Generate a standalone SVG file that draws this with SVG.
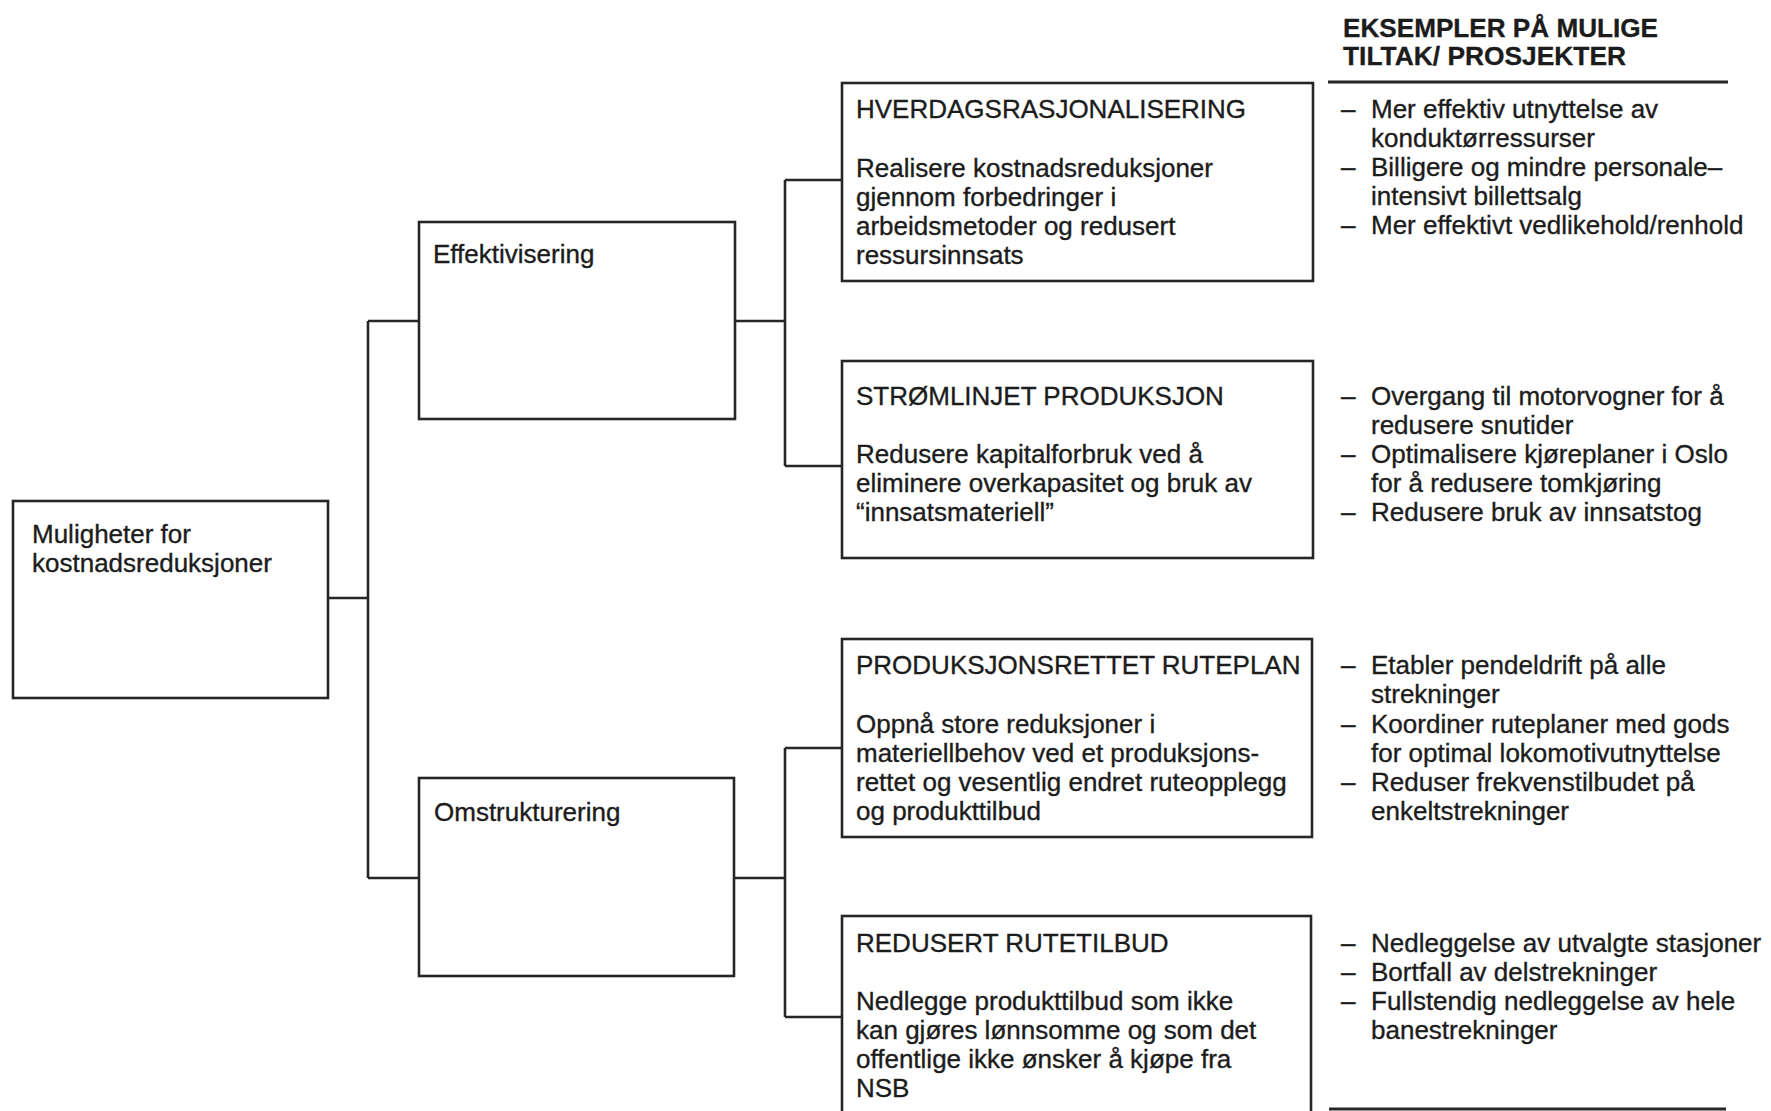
<svg xmlns="http://www.w3.org/2000/svg" width="1771" height="1111" viewBox="0 0 1771 1111">
  <style>
    .box { fill: #ffffff; stroke: #262626; stroke-width: 2.6; }
    .wire { fill: none; stroke: #262626; stroke-width: 2.6; }
    .rule { stroke: #262626; stroke-width: 2.8; }
    text { font-family: "Liberation Sans", Arial, Helvetica, sans-serif; font-size: 26px; fill: #1c1c1c; stroke: #1c1c1c; stroke-width: 0.35; }
    .head { font-weight: bold; font-size: 25px; stroke-width: 0.3; }
  </style>
  <rect width="1771" height="1111" fill="#ffffff"/>

  <!-- tree connectors -->
  <g id="connectors">
    <path class="wire" d="M328,598 H368 M368,321 V878 M368,321 H419 M368,878 H419"/>
    <path class="wire" d="M735,321 H785 M785,180 V466 M785,180 H842 M785,466 H842"/>
    <path class="wire" d="M734,878 H785 M785,748 V1017 M785,748 H842 M785,1017 H842"/>
  </g>

  <g id="root">
    <rect class="box" x="13" y="501" width="315" height="197"/>
    <text x="32" y="543">Muligheter for</text>
    <text x="32" y="572">kostnadsreduksjoner</text>
  </g>

  <g id="effektivisering">
    <rect class="box" x="419" y="222" width="316" height="197"/>
    <text x="433" y="263">Effektivisering</text>
  </g>

  <g id="omstrukturering">
    <rect class="box" x="419" y="778" width="315" height="198"/>
    <text x="434" y="821">Omstrukturering</text>
  </g>

  <g id="hverdagsrasjonalisering">
    <rect class="box" x="842" y="83" width="471" height="198"/>
    <text x="856" y="118">HVERDAGSRASJONALISERING</text>
    <text x="856" y="177">Realisere kostnadsreduksjoner</text>
    <text x="856" y="206">gjennom forbedringer i</text>
    <text x="856" y="235">arbeidsmetoder og redusert</text>
    <text x="856" y="264">ressursinnsats</text>
  </g>

  <g id="stromlinjet">
    <rect class="box" x="842" y="361" width="471" height="197"/>
    <text x="856" y="405">STRØMLINJET PRODUKSJON</text>
    <text x="856" y="463">Redusere kapitalforbruk ved å</text>
    <text x="856" y="492">eliminere overkapasitet og bruk av</text>
    <text x="856" y="521">“innsatsmateriell”</text>
  </g>

  <g id="produksjonsrettet">
    <rect class="box" x="842" y="639" width="470" height="198"/>
    <text x="856" y="674">PRODUKSJONSRETTET RUTEPLAN</text>
    <text x="856" y="733">Oppnå store reduksjoner i</text>
    <text x="856" y="762">materiellbehov ved et produksjons-</text>
    <text x="856" y="791">rettet og vesentlig endret ruteopplegg</text>
    <text x="856" y="820">og produkttilbud</text>
  </g>

  <g id="redusert">
    <rect class="box" x="842" y="916" width="469" height="210"/>
    <text x="856" y="952">REDUSERT RUTETILBUD</text>
    <text x="856" y="1010">Nedlegge produkttilbud som ikke</text>
    <text x="856" y="1039">kan gjøres lønnsomme og som det</text>
    <text x="856" y="1068">offentlige ikke ønsker å kjøpe fra</text>
    <text x="856" y="1097">NSB</text>
  </g>

  <!-- example measures column -->
  <g id="examples">
    <text class="head" x="1343" y="37" textLength="315" lengthAdjust="spacingAndGlyphs">EKSEMPLER PÅ MULIGE</text>
    <text class="head" x="1343" y="65" textLength="283" lengthAdjust="spacingAndGlyphs">TILTAK/ PROSJEKTER</text>
    <line class="rule" x1="1328" y1="82" x2="1728" y2="82"/>
    <line class="rule" x1="1329" y1="1109" x2="1726" y2="1109"/>

    <text x="1341" y="118">–</text><text x="1371" y="118">Mer effektiv utnyttelse av</text>
    <text x="1371" y="147">konduktørressurser</text>
    <text x="1341" y="176">–</text><text x="1371" y="176">Billigere og mindre personale–</text>
    <text x="1371" y="205">intensivt billettsalg</text>
    <text x="1341" y="234">–</text><text x="1371" y="234">Mer effektivt vedlikehold/renhold</text>

    <text x="1341" y="405">–</text><text x="1371" y="405">Overgang til motorvogner for å</text>
    <text x="1371" y="434">redusere snutider</text>
    <text x="1341" y="463">–</text><text x="1371" y="463">Optimalisere kjøreplaner i Oslo</text>
    <text x="1371" y="492">for å redusere tomkjøring</text>
    <text x="1341" y="521">–</text><text x="1371" y="521">Redusere bruk av innsatstog</text>

    <text x="1341" y="674">–</text><text x="1371" y="674">Etabler pendeldrift på alle</text>
    <text x="1371" y="703">strekninger</text>
    <text x="1341" y="733">–</text><text x="1371" y="733">Koordiner ruteplaner med gods</text>
    <text x="1371" y="762">for optimal lokomotivutnyttelse</text>
    <text x="1341" y="791">–</text><text x="1371" y="791">Reduser frekvenstilbudet på</text>
    <text x="1371" y="820">enkeltstrekninger</text>

    <text x="1341" y="952">–</text><text x="1371" y="952">Nedleggelse av utvalgte stasjoner</text>
    <text x="1341" y="981">–</text><text x="1371" y="981">Bortfall av delstrekninger</text>
    <text x="1341" y="1010">–</text><text x="1371" y="1010">Fullstendig nedleggelse av hele</text>
    <text x="1371" y="1039">banestrekninger</text>
  </g>
</svg>
